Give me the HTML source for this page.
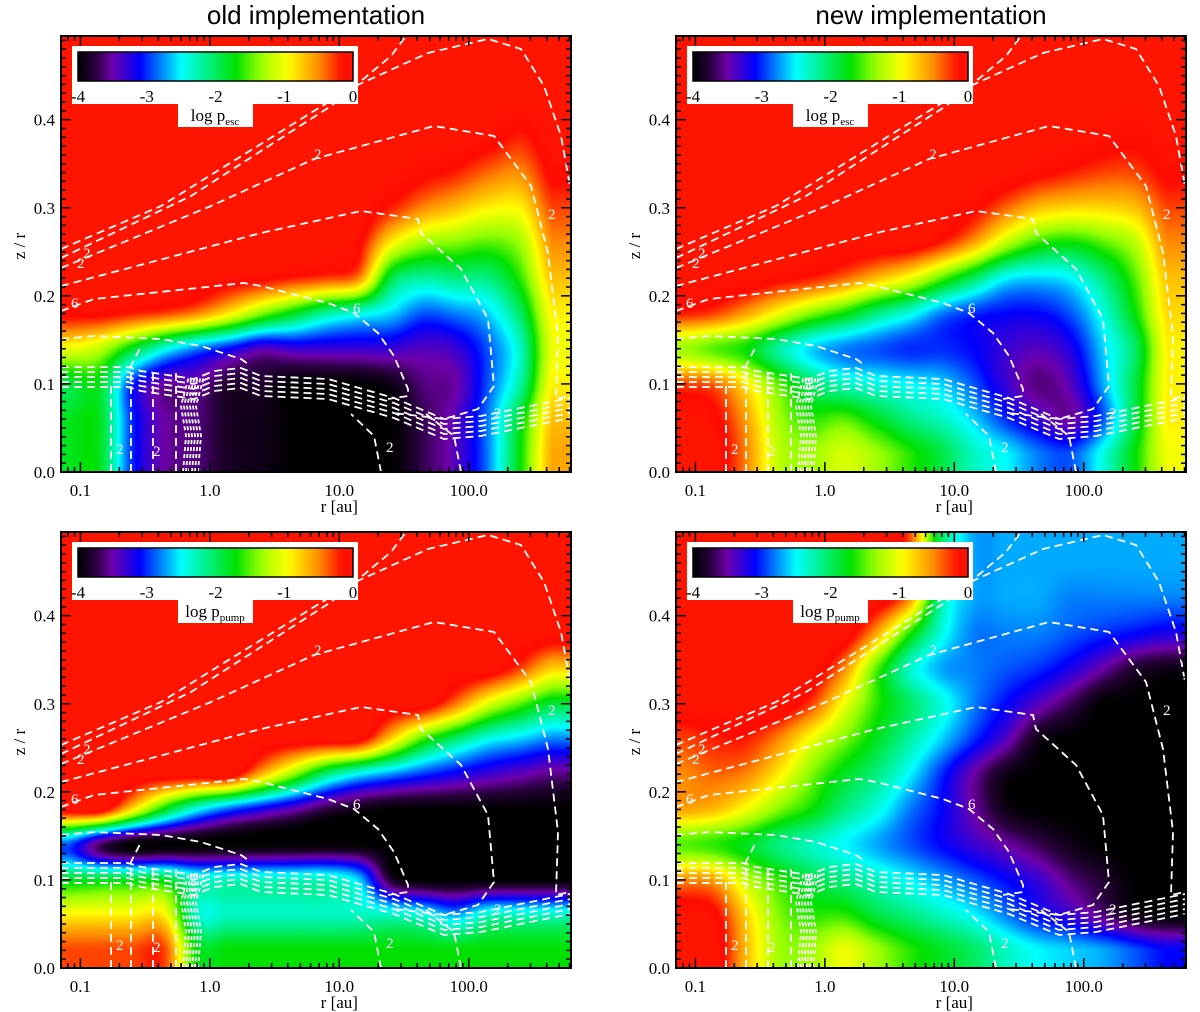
<!DOCTYPE html>
<html><head><meta charset="utf-8">
<style>
html,body{margin:0;padding:0;background:#fff;}
#wrap{position:relative;width:1200px;height:1012px;overflow:hidden;background:#fff;}
canvas{position:absolute;}
svg{position:absolute;left:0;top:0;}
</style></head>
<body>
<div id="wrap">
<svg id="ov" width="1200" height="1012"></svg>
</div>
<script>
// ---- data grids: columns in log10(r/au), rows in z/r (bottom to top) ----
const logrCols = [-1.1,-0.85,-0.6,-0.35,-0.1,0.15,0.4,0.65,0.9,1.15,1.4,1.65,1.9,2.15,2.4,2.65];
const zRows = [0.02,0.06,0.10,0.14,0.18,0.22,0.26,0.30,0.34,0.38,0.42,0.46];
const xTickVals = [0.1,1.0,10.0,100.0];
const xTickLabels = ["0.1","1.0","10.0","100.0"];
const yTickVals = [0.0,0.1,0.2,0.3,0.4];
const yTickLabels = ["0.0","0.1","0.2","0.3","0.4"];
const cbarTicks = [-4,-3,-2,-1,0];
const Z0=new Array(16).fill(0);
const escOld = [
 [-1.8,-1.8,-3.0,-3.5,-3.6,-3.85,-3.9,-4,-4,-4,-4,-3.7,-3.4,-2.8,-1.7,-0.6],
 [-1.8,-1.8,-3.0,-3.5,-3.6,-3.85,-3.9,-4,-4,-4,-4,-3.7,-3.4,-2.8,-1.8,-0.7],
 [-1.9,-1.8,-3.0,-3.5,-3.5,-3.8,-3.8,-4,-4,-4,-3.9,-3.6,-3.5,-2.9,-2.2,-0.9],
 [-1.0,-1.2,-1.8,-2.4,-2.8,-3.1,-3.4,-3.3,-3.3,-3.3,-3.3,-3.4,-3.3,-2.9,-2.3,-1.0],
 [-0.1,-0.1,-0.2,-0.3,-0.5,-0.9,-1.4,-1.8,-2.2,-2.4,-2.6,-2.9,-2.8,-2.6,-2.0,-0.9],
 [0,0,0,0,0,-0.05,-0.1,-0.2,-0.3,-0.5,-1.9,-2.2,-2.1,-2.1,-1.6,-0.7],
 [0,0,0,0,0,0,0,0,0,-0.1,-0.9,-1.3,-1.4,-1.5,-1.3,-0.5],
 [0,0,0,0,0,0,0,0,0,0,-0.2,-0.5,-0.7,-0.9,-0.9,-0.3],
 [0,0,0,0,0,0,0,0,0,0,0,-0.1,-0.2,-0.4,-0.5,-0.1],
 [0,0,0,0,0,0,0,0,0,0,0,0,0,-0.05,-0.2,0],
 Z0, Z0];
const escNew = [
 [0,0,-0.5,-1.2,-1.3,-1.1,-1.3,-1.6,-1.9,-2.3,-2.5,-2.8,-2.9,-2.4,-1.7,-1.0],
 [0,-0.1,-0.6,-1.3,-1.6,-1.5,-1.8,-2.1,-2.3,-2.6,-3.0,-3.3,-3.5,-2.9,-1.9,-0.9],
 [-0.3,-0.4,-0.9,-1.5,-2.0,-2.3,-2.4,-2.5,-2.6,-2.9,-3.3,-3.6,-3.4,-2.7,-1.9,-0.9],
 [-1.3,-1.5,-1.7,-2.2,-2.6,-2.8,-2.9,-3.0,-3.0,-3.1,-3.3,-3.4,-3.2,-2.6,-2.0,-0.9],
 [-0.2,-0.3,-0.6,-1.0,-1.4,-1.7,-2.1,-2.4,-2.8,-3.0,-3.1,-3.1,-2.9,-2.4,-1.7,-0.8],
 [0,0,0,-0.1,-0.2,-0.4,-0.7,-1.0,-1.5,-2.0,-2.5,-2.6,-2.5,-2.1,-1.5,-0.7],
 [0,0,0,0,0,0,0,0,-0.2,-0.6,-1.2,-1.6,-1.7,-1.5,-1.2,-0.5],
 [0,0,0,0,0,0,0,0,0,-0.1,-0.4,-0.7,-0.8,-0.8,-0.7,-0.3],
 [0,0,0,0,0,0,0,0,0,0,0,-0.1,-0.2,-0.3,-0.3,-0.1],
 [0,0,0,0,0,0,0,0,0,0,0,0,0,-0.05,-0.1,0],
 Z0, Z0];
const pumpOld = [
 [-0.3,-0.3,-0.3,-0.3,-1.7,-1.7,-1.7,-1.7,-1.7,-1.7,-1.7,-1.7,-1.7,-1.7,-1.7,-1.7],
 [-0.9,-0.9,-0.9,-0.9,-2.3,-2.3,-2.3,-2.3,-2.3,-2.3,-2.3,-2.4,-2.7,-2.3,-2.3,-2.3],
 [-1.8,-1.8,-1.8,-1.8,-2.3,-2.3,-2.3,-2.3,-2.3,-2.6,-3.8,-4,-4,-4,-4,-4],
 [-2.9,-3.65,-4,-4,-4,-4,-4,-4,-4,-4,-4,-4,-4,-4,-4,-4],
 [0,0,-0.86,-1.77,-2.46,-2.9,-3.2,-3.46,-3.75,-3.9,-4,-4,-4,-4,-4,-4],
 [0,0,0,0,0,0,-0.67,-1.36,-2.07,-2.5,-2.76,-2.99,-3.17,-3.32,-3.45,-3.58],
 [0,0,0,0,0,0,0,0,0,-0.04,-0.79,-1.56,-2.04,-2.43,-2.61,-2.8],
 [0,0,0,0,0,0,0,0,0,0,0,0,-0.45,-1.07,-1.5,-1.87],
 [0,0,0,0,0,0,0,0,0,0,0,0,0,0,-0.3,-0.78],
 Z0, Z0, Z0];
const pumpNew = [
 [0,0,-0.7,-1.3,-1.3,-1.0,-1.3,-1.6,-1.8,-2.0,-2.3,-2.5,-2.6,-2.7,-2.9,-3.1],
 [0,-0.1,-0.8,-1.4,-1.6,-1.6,-1.9,-2.1,-2.3,-2.5,-2.8,-3.1,-3.3,-3.6,-3.9,-4],
 [-0.5,-0.6,-1.2,-1.6,-1.9,-2.1,-2.3,-2.5,-2.7,-2.9,-3.1,-3.3,-3.6,-3.8,-4,-4],
 [-1.5,-1.6,-1.8,-2.1,-2.3,-2.5,-2.7,-2.9,-3.1,-3.3,-3.5,-3.7,-3.9,-4,-4,-4],
 [-0.6,-0.7,-1.0,-1.4,-1.7,-2.1,-2.4,-2.8,-3.1,-3.5,-3.9,-4,-4,-4,-4,-4],
 [-0.5,-0.4,-0.5,-0.9,-1.4,-1.8,-2.1,-2.5,-3.0,-3.5,-3.9,-4,-4,-4,-4,-4],
 [-0.3,-0.2,-0.2,-0.5,-1.0,-1.4,-1.8,-2.2,-2.6,-3.0,-3.4,-3.9,-4,-4,-4,-4],
 [0,0,0,0,-0.3,-1.0,-1.6,-2.0,-2.4,-2.8,-3.1,-3.4,-3.7,-4,-4,-4],
 [0,0,0,0,0,-0.5,-1.5,-2.3,-2.7,-2.8,-2.9,-3.0,-3.2,-3.5,-3.8,-3.9],
 [0,0,0,0,0,0,-0.6,-1.6,-2.4,-2.8,-2.8,-2.8,-2.9,-3.0,-3.1,-3.2],
 [0,0,0,0,0,0,0,-0.5,-2.2,-2.7,-2.7,-2.7,-2.8,-2.8,-2.8,-2.8],
 [0,0,0,0,0,0,0,-0.3,-2.0,-2.7,-2.7,-2.7,-2.7,-2.7,-2.7,-2.7]];

// ---- geometry ----
const PW=510, PH=436, LMIN=-1.15, LMAX=2.79, ZMAX=0.495;
const xOf = l => (l-LMIN)/(LMAX-LMIN)*PW;
const yOf = z => PH*(1-z/ZMAX);
const stops=[[-4,0,0,0],[-3.75,40,0,60],[-3.5,110,0,170],[-3.1,0,0,255],[-2.5,0,255,255],[-1.7,0,225,0],[-1.35,150,255,0],[-0.95,255,255,0],[-0.5,255,140,0],[-0.15,255,10,0],[0,255,20,0]];
function cmap(v){
  if(v<=stops[0][0]) return stops[0].slice(1);
  for(let i=1;i<stops.length;i++){ if(v<=stops[i][0]){const a=stops[i-1],b=stops[i],t=(v-a[0])/(b[0]-a[0]);return [a[1]+t*(b[1]-a[1]),a[2]+t*(b[2]-a[2]),a[3]+t*(b[3]-a[3])];}}
  return stops[stops.length-1].slice(1);
}
function cr(p0,p1,p2,p3,t){return 0.5*((2*p1)+(-p0+p2)*t+(2*p0-5*p1+4*p2-p3)*t*t+(-p0+3*p1-3*p2+p3)*t*t*t);}
function sample(g,l,z){
  const nc=logrCols.length,nr=zRows.length;
  let fc=(l-logrCols[0])/(logrCols[1]-logrCols[0]); fc=Math.max(0,Math.min(nc-1,fc));
  let fr=(z-zRows[0])/(zRows[1]-zRows[0]); fr=Math.max(0,Math.min(nr-1,fr));
  const c1=Math.min(Math.floor(fc),nc-2),r1=Math.min(Math.floor(fr),nr-2);
  const tc=fc-c1,tr=fr-r1;
  const C=i=>Math.max(0,Math.min(nc-1,i)),R=i=>Math.max(0,Math.min(nr-1,i));
  const rowv=[];
  for(let k=-1;k<=2;k++){const row=g[R(r1+k)];rowv.push(cr(row[C(c1-1)],row[C(c1)],row[C(c1+1)],row[C(c1+2)],tc));}
  let v=cr(rowv[0],rowv[1],rowv[2],rowv[3],tr);
  return Math.max(-4,Math.min(0,v));
}
const NS='http://www.w3.org/2000/svg';
const ov=document.getElementById('ov');
function el(tag,attrs,parent,txt){const e=document.createElementNS(NS,tag);for(const k in attrs)e.setAttribute(k,attrs[k]);if(txt!==undefined)e.textContent=txt;(parent||ov).appendChild(e);return e;}

// contour paths (local plot coords)
const contours=[
 [[0,213],[100,170],[290,52],[367,17],[427,3],[460,13],[483,50],[500,100],[509,150]],
 [[0,222],[130,160],[270,70],[330,20],[345,0]],
 [[0,232],[150,170],[253,123],[373,90],[433,100],[470,150],[487,217],[497,300],[495,363],[509,360]],
 [[0,250],[200,197],[300,175],[357,183],[360,197],[400,233],[427,283],[433,350],[417,373],[383,383],[333,377]],
 [[0,275],[33,263],[183,247],[200,250],[267,267],[293,277],[317,297],[333,320],[347,353],[347,360],[327,363]],
 [[0,303],[33,300],[100,303],[140,310],[180,323],[187,328]],
 [[320,436],[313,400],[290,378]],
 [[400,436],[393,400],[365,378]],
 [[50,436],[50,345]],[[70,436],[70,330],[80,310]],[[92,436],[92,335]],[[115,436],[115,332]]
];
const bundle=[[0,331],[67,331],[80,335],[133,343],[153,335],[180,332],[200,340],[267,343],[333,362],[383,383],[420,380],[509,362]];
const clabels=[["2",22,222],["2",16,232],["2",253,123],["6",10,272],["6",292,277],["2",487,183],["2",433,382],["2",325,416],["2",55,418],["2",92,420]];

function panel(px,py,grid,sub,idx){
  const cv=document.createElement('canvas');cv.width=PW;cv.height=PH;
  cv.style.left=px+'px';cv.style.top=py+'px';
  
  
  document.getElementById('wrap').insertBefore(cv,ov);
  const ctx=cv.getContext('2d');const im=ctx.createImageData(PW,PH);
  for(let y=0;y<PH;y++){const z=ZMAX*(1-(y+0.5)/PH);
    for(let x=0;x<PW;x++){const l=LMIN+(x+0.5)/PW*(LMAX-LMIN);const c=cmap(sample(grid,l,z));const o=(y*PW+x)*4;
      im.data[o]=c[0];im.data[o+1]=c[1];im.data[o+2]=c[2];im.data[o+3]=255;}}
  ctx.putImageData(im,0,0);
  const g=el('g',{transform:`translate(${px},${py})`});
  
  
  const cg=el('g',{fill:'none',stroke:'#fff','stroke-width':1.8,'stroke-dasharray':'8,5'},g);
  
  
  contours.forEach(c=>el('path',{d:'M'+c.map(p=>p.join(',')).join(' L')},cg));
  for(let k=0;k<5;k++){el('path',{d:'M'+bundle.map(p=>[p[0],p[1]+k*5].join(',')).join(' L')},cg);}
  for(let k=0;k<6;k++){el('path',{d:`M${122+k*3},436 L${125+k*3},400 L${120+k*3},370 L${128+k*3},340`,'stroke-dasharray':'4,3'},cg);}
  clabels.forEach(t=>el('text',{x:t[1],y:t[2],fill:'#fff',stroke:'none','font-family':'Liberation Serif, serif','font-size':15},g,t[0]));
  const cb=el('g',{},g);
  
  
  el('rect',{x:11,y:10,width:286,height:58,fill:'#fff'},cb);
  el('rect',{x:117,y:66,width:75,height:25,fill:'#fff'},cb);
  const gid='cbg'+idx;const defs=el('defs',{},cb);const lg=el('linearGradient',{id:gid,x1:0,x2:1,y1:0,y2:0},defs);
  for(let i=0;i<=40;i++){const v=-4+i/10;const c=cmap(v);el('stop',{offset:(i/40),'stop-color':`rgb(${c.map(Math.round).join(',')})`},lg);}
  el('rect',{x:17,y:16,width:275,height:29,fill:`url(#${gid})`,stroke:'#000','stroke-width':1.5},cb);
  cbarTicks.forEach(t=>{const x=17+(t+4)/4*275;el('text',{x:x,y:66,'text-anchor':'middle','font-family':'Liberation Serif, serif','font-size':17},cb,String(t));});
  const lt=el('text',{x:154,y:85,'text-anchor':'middle','font-family':'Liberation Serif, serif','font-size':17},cb);
  lt.appendChild(document.createTextNode('log p'));
  el('tspan',{'font-size':11,dy:4},lt,sub);
  const ax=el('g',{stroke:'#000','stroke-width':1.5},g);
  
  
  el('rect',{x:0,y:0,width:PW,height:PH,fill:'none','stroke-width':2},ax);
  for(let d=-2;d<=2;d++)for(let m=1;m<=9;m++){const l=d+Math.log10(m);if(l<LMIN||l>LMAX)continue;const x=xOf(l),len=m===1?10:5;
    el('line',{x1:x,y1:PH,x2:x,y2:PH-len},ax);el('line',{x1:x,y1:0,x2:x,y2:len},ax);}
  for(let i=0;i<=49;i++){const z=i*0.01,y=yOf(z),len=i%10===0?10:5;
    el('line',{x1:0,y1:y,x2:len,y2:y},ax);el('line',{x1:PW,y1:y,x2:PW-len,y2:y},ax);}
  xTickVals.forEach((v,i)=>{const t=el('text',{x:xOf(Math.log10(v)),y:PH+24,'text-anchor':'middle','font-family':'Liberation Serif, serif','font-size':17},g,xTickLabels[i]);
    
    });
  yTickVals.forEach((v,i)=>{const t=el('text',{x:-6,y:yOf(v)+6,'text-anchor':'end','font-family':'Liberation Serif, serif','font-size':17},g,yTickLabels[i]);
    
    });
  const xt=el('text',{x:xOf(1),y:PH+40,'text-anchor':'middle','font-family':'Liberation Serif, serif','font-size':17},g,'r [au]');
  
  
  const yt=el('text',{x:0,y:0,transform:`translate(-36,${PH/2-8}) rotate(-90)`,'text-anchor':'middle','font-family':'Liberation Serif, serif','font-size':17},g,'z / r');
  
  
}
panel(61,36,escOld,'esc',1);
panel(676,36,escNew,'esc',2);
panel(61,532,pumpOld,'pump',3);
panel(676,532,pumpNew,'pump',4);
const t1=el('text',{x:316,y:24,'text-anchor':'middle','font-family':'Liberation Sans, sans-serif','font-size':26},ov,'old implementation');


const t2=el('text',{x:931,y:24,'text-anchor':'middle','font-family':'Liberation Sans, sans-serif','font-size':26},ov,'new implementation');


</script>
</body></html>
